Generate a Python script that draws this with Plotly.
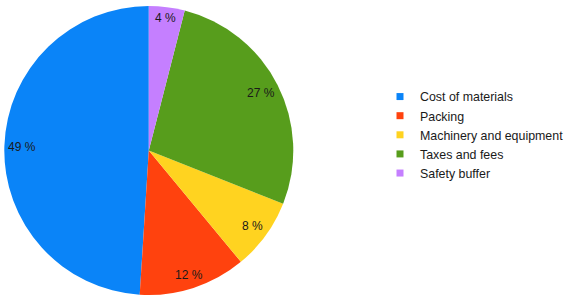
import math
import plotly.graph_objects as go

categories = ["Cost of materials", "Packing", "Machinery and equipment", "Taxes and fees", "Safety buffer"]
values = [49, 12, 8, 27, 4]
colors = ["#0a84f8", "#ff420e", "#ffd320", "#579d1c", "#c57fff"]

W, H = 570, 301
CX, CY, R = 148.8, 150.5, 144.5  # pie centre / radius in pixels
FONT = "Liberation Sans, Arial, sans-serif"

total = sum(values)
fig = go.Figure()
fig.add_trace(go.Pie(
    labels=categories,
    values=values,
    sort=False,
    direction="counterclockwise",
    rotation=-360.0 * values[0] / total,  # first slice starts at 12 o'clock, going ccw
    marker=dict(colors=colors, line=dict(width=0)),
    textinfo="none",
    showlegend=False,
    domain=dict(x=[(CX - R) / W, (CX + R) / W],
                y=[1 - (CY + R) / H, 1 - (CY - R) / H]),
    hoverinfo="label+percent",
))

# legend entries with small square keys
for cat, col in zip(categories, colors):
    fig.add_trace(go.Scatter(x=[None], y=[None], mode="markers", name=cat,
                             marker=dict(symbol="square", size=7, color=col, line=dict(width=0))))

# labels placed inside each slice near its rim (computed from the data)
cum = 0.0
annotations = []
for v in values:
    mid = (cum + v / 2) / total  # fraction, counterclockwise from 12 o'clock
    cum += v
    theta = -2 * math.pi * mid
    txt = f"{v} %"
    hw = len(txt) * 3.4
    hh = 6.0
    s, c = math.sin(theta), math.cos(theta)
    rr = (R - 4) - (hw * abs(s) + hh * abs(c))
    px = CX + rr * s
    py = CY - rr * c
    annotations.append(dict(x=px / W, y=1 - py / H, xref="paper", yref="paper",
                            text=txt, showarrow=False, xanchor="center", yanchor="middle",
                            font=dict(family=FONT, size=12, color="#1a1a1a")))

fig.update_layout(
    width=W, height=H,
    margin=dict(l=0, r=0, t=0, b=0, autoexpand=False),
    paper_bgcolor="white",
    plot_bgcolor="white",
    font=dict(family=FONT, size=12, color="#1a1a1a"),
    xaxis=dict(visible=False),
    yaxis=dict(visible=False),
    legend=dict(x=380 / W, y=1 - 135 / H, xanchor="left", yanchor="middle",
                font=dict(size=12.4), tracegroupgap=0, itemclick=False, itemdoubleclick=False),
    annotations=annotations,
)

fig.write_html("out.html")
